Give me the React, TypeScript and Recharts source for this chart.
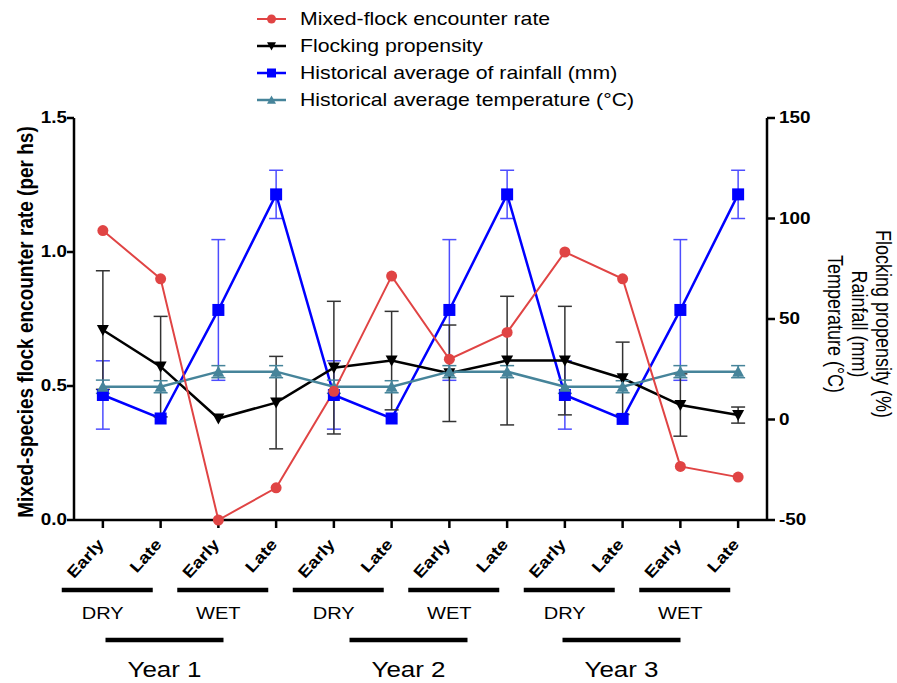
import React from "react";
import { LineChart, Line, XAxis, YAxis, ErrorBar } from "recharts";

const periods = ["Early", "Late", "Early", "Late", "Early", "Late", "Early", "Late", "Early", "Late", "Early", "Late"];
const encounterRate = [1.08, 0.9, 0.0, 0.12, 0.48, 0.91, 0.6, 0.7, 1.0, 0.9, 0.2, 0.16];
const flocking = [44.5, 26.3, 0.5, 8.4, 25.8, 29.3, 23, 29.3, 29.3, 20.5, 7.2, 2.2];
const flockingErr = [29.5, 25, 0, 23, 33, 24.5, 24, 32, 27, 18, 15.5, 4];
const rainfall = [12.2, 0.5, 54.5, 112, 12.2, 0.5, 54.5, 112, 12.2, 0.3, 54.5, 112];
const rainfallErr = [17, 0, 35, 12, 17, 0, 35, 12, 17, 0, 35, 12];
const temperature = [16.3, 16.3, 23.8, 23.8, 16.3, 16.3, 23.8, 23.8, 16.3, 16.3, 23.8, 23.8];
const temperatureErr = [3.3, 3, 3, 3, 3.3, 3, 3, 3, 3.3, 3, 3, 3];

const seasons = ["DRY", "WET", "DRY", "WET", "DRY", "WET"];
const years = ["Year 1", "Year 2", "Year 3"];
const leftTicks = [0, 0.5, 1.0, 1.5];
const rightTicks = [-50, 0, 50, 100, 150];
const rightTitles = ["Flocking propensity (%)", "Rainfall (mm)", "Temperature (°C)"];

const RED = "#e04444";
const BLACK = "#000000";
const BLUE = "#0000ff";
const TEAL = "#46849a";
const FONT = "Arial, 'Liberation Sans', sans-serif";
const STRETCH = 1.18; // the source figure is a bit wider than tall

const data = periods.map((p, i) => ({
  slot: i,
  period: p,
  encounter: encounterRate[i],
  flocking: flocking[i],
  flockingErr: flockingErr[i],
  rainfall: rainfall[i],
  rainfallErr: rainfallErr[i],
  temperature: temperature[i],
  temperatureErr: temperatureErr[i],
}));

// plot box (used only for the annotation overlay)
const PLOT_LEFT = 74;
const PLOT_RIGHT = 767;
const BAND = (PLOT_RIGHT - PLOT_LEFT) / periods.length;
const yearNudge = [0, 13, -5];

function Circle({ cx, cy, size = 5.5 }: any) {
  return <circle cx={cx} cy={cy} r={size} fill={RED} />;
}
function DownTri({ cx, cy, size = 6 }: any) {
  return <polygon points={`${cx - size},${cy - size * 0.85} ${cx + size},${cy - size * 0.85} ${cx},${cy + size}`} fill={BLACK} />;
}
function Square({ cx, cy, size = 6 }: any) {
  return <rect x={cx - size} y={cy - size} width={size * 2} height={size * 2} fill={BLUE} />;
}
function UpTri({ cx, cy, size = 6 }: any) {
  return <polygon points={`${cx - size},${cy + size * 0.85} ${cx + size},${cy + size * 0.85} ${cx},${cy - size}`} fill={TEAL} />;
}

const series = [
  { name: "Mixed-flock encounter rate", color: RED, Marker: Circle, lw: 2 },
  { name: "Flocking propensity", color: BLACK, Marker: DownTri, lw: 2.5 },
  { name: "Historical average of rainfall (mm)", color: BLUE, Marker: Square, lw: 2.5 },
  { name: "Historical average temperature (°C)", color: TEAL, Marker: UpTri, lw: 2.5 },
];

function SText({ x, y, size, weight = "normal", anchor = "start", children }: any) {
  return (
    <text
      transform={`translate(${x}, ${y}) scale(${STRETCH}, 1)`}
      textAnchor={anchor}
      dominantBaseline="central"
      fontFamily={FONT}
      fontSize={size}
      fontWeight={weight}
      fill="#000"
    >
      {children}
    </text>
  );
}

function PeriodTick({ x, y, payload }: any) {
  const ax = x + 2;
  const ay = y + 15;
  return (
    <text
      transform={`translate(${ax}, ${ay}) rotate(-48) scale(${STRETCH}, 1)`}
      textAnchor="end"
      fontFamily={FONT}
      fontSize={16}
      fontWeight="bold"
      fill="#000"
    >
      {periods[payload.value]}
    </text>
  );
}

function LeftTick({ x, y, payload }: any) {
  return (
    <SText x={x} y={y} size={16} weight="bold" anchor="end">
      {Number(payload.value).toFixed(1)}
    </SText>
  );
}

function RightTick({ x, y, payload }: any) {
  return (
    <SText x={x} y={y} size={16} weight="bold" anchor="start">
      {payload.value}
    </SText>
  );
}

const axisLine = { stroke: "#000", strokeWidth: 2.5 };

export default function App() {
  return (
    <div style={{ position: "absolute", left: 0, top: 0, width: 897, height: 683, background: "#fff", fontFamily: FONT }}>
      <LineChart width={897} height={683} data={data} margin={{ top: 118, right: 90, left: 30, bottom: 103 }}>
        <XAxis
          dataKey="slot"
          type="category"
          axisLine={axisLine}
          tickLine={axisLine}
          tickSize={8}
          height={60}
          interval={0}
          padding={{ left: BAND / 2, right: BAND / 2 }}
          tick={<PeriodTick />}
        />
        <YAxis
          yAxisId="left"
          domain={[0, 1.5]}
          ticks={leftTicks}
          width={44}
          axisLine={axisLine}
          tickLine={axisLine}
          tickSize={7}
          tickMargin={0}
          tick={<LeftTick />}
        />
        <YAxis
          yAxisId="right"
          orientation="right"
          domain={[-50, 150]}
          ticks={rightTicks}
          width={40}
          axisLine={axisLine}
          tickLine={axisLine}
          tickSize={8}
          tickMargin={4}
          tick={<RightTick />}
        />
        <Line
          yAxisId="right"
          dataKey="rainfall"
          stroke={BLUE}
          strokeWidth={2.5}
          isAnimationActive={false}
          dot={(p: any) => <Square key={`r${p.index}`} cx={p.cx} cy={p.cy} />}
        >
          <ErrorBar dataKey="rainfallErr" direction="y" width={7} stroke="#4d4dff" strokeWidth={1.5} />
        </Line>
        <Line
          yAxisId="right"
          dataKey="flocking"
          stroke={BLACK}
          strokeWidth={2.5}
          isAnimationActive={false}
          dot={(p: any) => <DownTri key={`f${p.index}`} cx={p.cx} cy={p.cy} />}
        >
          <ErrorBar dataKey="flockingErr" direction="y" width={7} stroke="#333" strokeWidth={1.5} />
        </Line>
        <Line
          yAxisId="right"
          dataKey="temperature"
          stroke={TEAL}
          strokeWidth={2.5}
          isAnimationActive={false}
          dot={(p: any) => <UpTri key={`t${p.index}`} cx={p.cx} cy={p.cy} />}
        >
          <ErrorBar dataKey="temperatureErr" direction="y" width={7} stroke={TEAL} strokeWidth={1.5} />
        </Line>
        <Line
          yAxisId="left"
          dataKey="encounter"
          stroke={RED}
          strokeWidth={2}
          isAnimationActive={false}
          dot={(p: any) => <Circle key={`e${p.index}`} cx={p.cx} cy={p.cy} />}
        />
      </LineChart>

      <svg width={897} height={683} style={{ position: "absolute", left: 0, top: 0, pointerEvents: "none" }}>
        {/* legend */}
        {series.map((s, i) => {
          const y = 19 + i * 27;
          const M = s.Marker;
          return (
            <g key={s.name}>
              <line x1={257} x2={286} y1={y} y2={y} stroke={s.color} strokeWidth={s.lw} />
              <M cx={271.5} cy={y} size={4.5} />
              <SText x={300} y={y} size={18}>
                {s.name}
              </SText>
            </g>
          );
        })}

        {/* axis titles */}
        <text
          transform={`translate(25, 322) rotate(-90) scale(1, ${STRETCH})`}
          textAnchor="middle"
          dominantBaseline="central"
          fontFamily={FONT}
          fontSize={19}
          fontWeight="bold"
          fill="#000"
        >
          Mixed-species flock encounter rate (per hs)
        </text>
        {rightTitles.map((t, i) => (
          <text
            key={t}
            transform={`translate(${884 - i * 24}, 324) rotate(90) scale(1, ${STRETCH})`}
            textAnchor="middle"
            dominantBaseline="central"
            fontFamily={FONT}
            fontSize={18}
            fill="#000"
          >
            {t}
          </text>
        ))}

        {/* season and year groups */}
        {seasons.map((s, i) => {
          const cx = PLOT_LEFT + BAND * (2 * i + 1) - 29;
          return (
            <g key={`s${i}`}>
              <line x1={cx - 41} x2={cx + 50} y1={590} y2={590} stroke="#000" strokeWidth={4.5} />
              <SText x={cx} y={613} size={17} anchor="middle">
                {s}
              </SText>
            </g>
          );
        })}
        {years.map((yr, i) => {
          const cx = PLOT_LEFT + BAND * (4 * i + 2) - 25 + yearNudge[i];
          return (
            <g key={yr}>
              <line x1={cx - 59} x2={cx + 59} y1={640} y2={640} stroke="#000" strokeWidth={4.5} />
              <SText x={cx} y={669} size={22} anchor="middle">
                {yr}
              </SText>
            </g>
          );
        })}
      </svg>
    </div>
  );
}
